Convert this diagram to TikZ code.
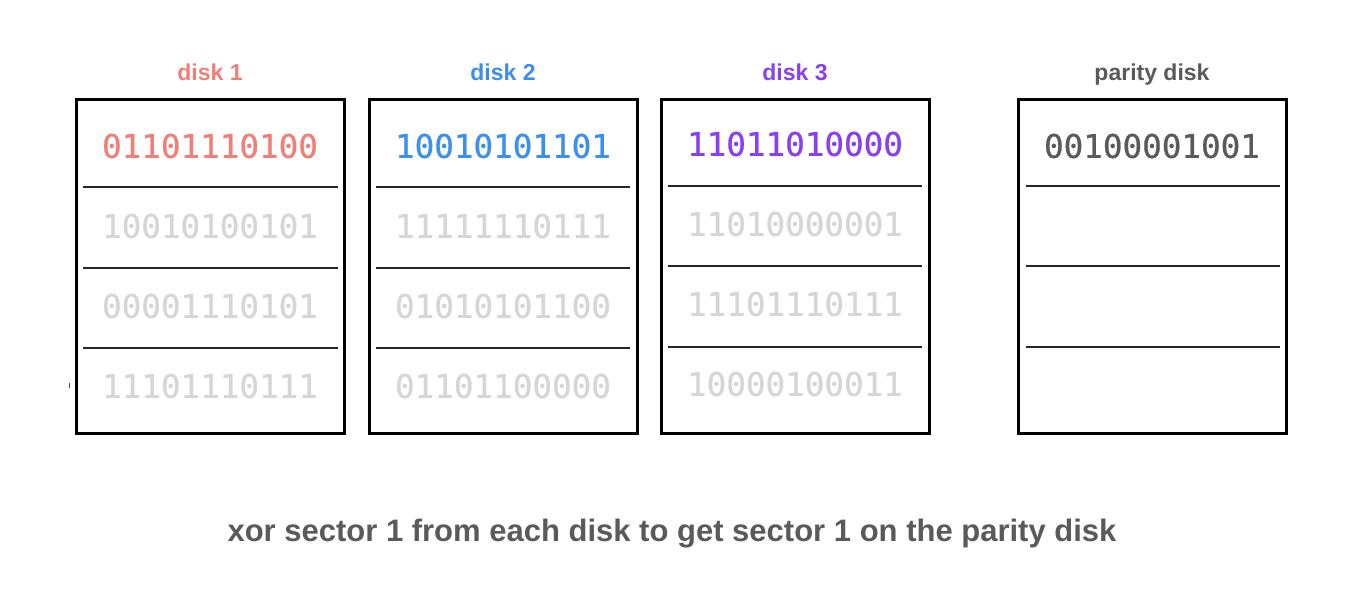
\documentclass[tikz,border=0pt]{standalone}
\usepackage{fontspec}
\setmainfont{Liberation Sans}
\newfontfamily\monof[FakeBold=0.7]{DejaVu Sans Mono}
\newfontfamily\headf{Liberation Sans}
\definecolor{cred}{HTML}{F07F78}
\definecolor{cblue}{HTML}{3C8FEA}
\definecolor{cpurple}{HTML}{8A3FF0}
\definecolor{cfaint}{HTML}{D6D6D6}
\definecolor{cgray}{HTML}{5A5A5A}
\tikzset{
  diskbox/.style={draw=black, line width=3pt, minimum width=268pt, minimum height=334pt, inner sep=0pt},
  divider/.style={draw=black!85, line width=1.3pt},
  bits/.style={font=\monof\fontsize{32.6}{32.6}\selectfont, inner sep=0pt, anchor=center},
  title/.style={font=\headf\bfseries\fontsize{23}{23}\selectfont, inner sep=0pt, anchor=base},
}
\begin{document}
\begin{tikzpicture}[x=1pt,y=-1pt]
\useasboundingbox[fill=white] (0,0) rectangle (1362,608);

% boxes
\node[diskbox] (d1) at (210.5,266.5) {};
\node[diskbox] (d2) at (503,266.5) {};
\node[diskbox] (d3) at (795.5,266.5) {};
\node[diskbox] (dp) at (1152.5,266.5) {};

% titles
\node[title, text=cred] (t1) at (210,80) {disk 1};
\node[title, text=cblue] (t2) at (503,80) {disk 2};
\node[title, text=cpurple] (t3) at (795,80) {disk 3};
\node[title, text=cgray] (tp) at (1152,80) {parity disk};

% dividers
\foreach \y in {187,268,348} {
  \draw[divider] (83,\y) -- (338,\y);
  \draw[divider] (376,\y) -- (630,\y);
}
\foreach \y in {186,266,347} {
  \draw[divider] (668,\y) -- (922,\y);
  \draw[divider] (1026,\y) -- (1280,\y);
}

% disk 1
\node[bits, text=cred] (a1) at (210,146) {01101110100};
\node[bits, text=cfaint] (a2) at (210,226) {10010100101};
\node[bits, text=cfaint] (a3) at (210,306) {00001110101};
\node[bits, text=cfaint] (a4) at (210,386) {11101110111};
% disk 2
\node[bits, text=cblue] (b1) at (503,146) {10010101101};
\node[bits, text=cfaint] (b2) at (503,226) {11111110111};
\node[bits, text=cfaint] (b3) at (503,306) {01010101100};
\node[bits, text=cfaint] (b4) at (503,386) {01101100000};
% disk 3
\node[bits, text=cpurple] (c1) at (795,144) {11011010000};
\node[bits, text=cfaint] (c2) at (795,224) {11010000001};
\node[bits, text=cfaint] (c3) at (795,304) {11101110111};
\node[bits, text=cfaint] (c4) at (795,384) {10000100011};
% parity
\node[bits, text=cgray] (p1) at (1152,146) {00100001001};

% stray tick
\draw[black!70, line width=1pt] (69,383) -- (69,388);

% caption
\node[font=\headf\bfseries\fontsize{31}{31}\selectfont, text=cgray, inner sep=0pt, anchor=base] (cap) at (672,541) {xor sector 1 from each disk to get sector 1 on the parity disk};
\end{tikzpicture}
\end{document}
